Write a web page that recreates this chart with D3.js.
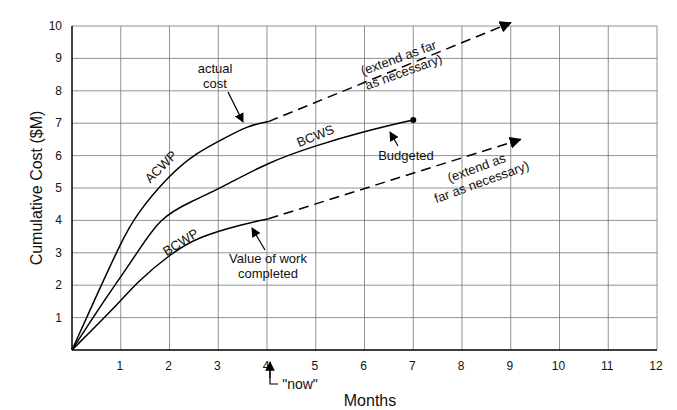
<!DOCTYPE html>
<html>
<head>
<script src="https://d3js.org/d3.v7.min.js"></script>
<style>
  * { margin: 0; }
  body { background: #fff; }
  text { font-family: "Liberation Sans", Arial, sans-serif; fill: #111; }
</style>
</head>
<body>
<svg id="chart" width="677" height="410"></svg>
<script>
const xTicks = [1,2,3,4,5,6,7,8,9,10,11,12];
const yTicks = [1,2,3,4,5,6,7,8,9,10];
const acwp = [[0,0],[0.57,1.9],[1.0,3.3],[1.3,4.15],[1.99,5.4],[2.57,6.1],[3.08,6.5],[3.62,6.93],[4.03,7.05]];
const acwpExt = [[4.03,7.05],[9.0,10.1]];
const bcws = [[0,0],[0.6,1.4],[1.3,2.9],[1.8,4.1],[2.47,4.6],[3.05,5.0],[4.03,5.8],[4.98,6.3],[6.0,6.75],[7.0,7.1]];
const bcwp = [[0,0],[1.0,1.5],[1.3,2.05],[2.04,3.0],[2.61,3.5],[3.49,3.88],[4.03,4.05]];
const bcwpExt = [[4.03,4.05],[9.2,6.5]];

const svg = d3.select("#chart");
const x = d3.scaleLinear().domain([0,12]).range([72,657]);
const y = d3.scaleLinear().domain([0,10]).range([350,26]);

// grid
svg.append("g").selectAll("line").data(xTicks).enter().append("line")
  .attr("x1", d => x(d)).attr("x2", d => x(d)).attr("y1", y(0)).attr("y2", y(10))
  .attr("stroke", "#777").attr("stroke-width", 0.8);
svg.append("g").selectAll("line").data(yTicks).enter().append("line")
  .attr("x1", x(0)).attr("x2", x(12)).attr("y1", d => y(d)).attr("y2", d => y(d))
  .attr("stroke", "#777").attr("stroke-width", 0.8);

// axes
svg.append("line").attr("x1", x(0)).attr("x2", x(0)).attr("y1", y(0)).attr("y2", y(10)).attr("stroke", "#000").attr("stroke-width", 1.5);
svg.append("line").attr("x1", x(0)).attr("x2", x(12)).attr("y1", y(0)).attr("y2", y(0)).attr("stroke", "#000").attr("stroke-width", 1.5);

svg.append("g").selectAll("text").data(xTicks).enter().append("text")
  .attr("x", d => x(d) - 1).attr("y", 370).attr("text-anchor", "middle")
  .attr("font-size", 12).text(d => d);
svg.append("g").selectAll("text").data(yTicks).enter().append("text")
  .attr("x", 62).attr("y", d => y(d) + 4).attr("text-anchor", "end")
  .attr("font-size", 12).text(d => d);

svg.append("text").attr("transform", "translate(42,188) rotate(-90)")
  .attr("text-anchor", "middle").attr("font-size", 16).text("Cumulative Cost ($M)");
svg.append("text").attr("x", 370).attr("y", 406).attr("text-anchor", "middle")
  .attr("font-size", 16).text("Months");

// curves
const line = d3.line().x(d => x(d[0])).y(d => y(d[1])).curve(d3.curveBasis);
const straight = d3.line().x(d => x(d[0])).y(d => y(d[1]));
[acwp, bcws, bcwp].forEach(s => svg.append("path").attr("d", line(s))
  .attr("fill", "none").attr("stroke", "#000").attr("stroke-width", 1.5));
[acwpExt, bcwpExt].forEach(s => svg.append("path").attr("d", straight(s))
  .attr("fill", "none").attr("stroke", "#000").attr("stroke-width", 1.5).attr("stroke-dasharray", "10,6"));

svg.append("defs").append("marker").attr("id", "ah").attr("viewBox", "0 0 10 10")
  .attr("refX", 9).attr("refY", 5).attr("markerWidth", 8).attr("markerHeight", 8).attr("orient", "auto")
  .append("path").attr("d", "M0,0L10,5L0,10Z").attr("fill", "#000");
[acwpExt, bcwpExt].forEach(s => {
  const a = s[1], b = [s[1][0] - (s[1][0]-s[0][0])*0.02, s[1][1] - (s[1][1]-s[0][1])*0.02];
  svg.append("line").attr("x1", x(b[0])).attr("y1", y(b[1])).attr("x2", x(a[0])).attr("y2", y(a[1]))
    .attr("stroke", "#000").attr("stroke-width", 1.5).attr("marker-end", "url(#ah)");
});
svg.append("circle").attr("cx", x(7)).attr("cy", y(7.1)).attr("r", 3).attr("fill", "#000");

// labels
function rtext(t, px, py, ang, size) {
  const lines = t.split("\n");
  const g = svg.append("text").attr("transform", `translate(${px},${py}) rotate(${ang})`)
    .attr("font-size", size || 13).attr("text-anchor", "middle");
  lines.forEach((l, i) => g.append("tspan").attr("x", 0).attr("dy", i ? 15 : 0).text(l));
}
rtext("ACWP", 164, 170, -45);
rtext("BCWS", 317, 140, -22);
rtext("BCWP", 183, 246, -32);
rtext("actual\ncost", 215, 73, 0);
rtext("Budgeted", 406, 160, 0);
rtext("Value of work\ncompleted", 268, 263, 0);
rtext("(extend as far\nas necessary)", 400, 62, -20);
rtext("(extend as\nfar as necessary)", 478, 172, -20);
rtext("\"now\"", 300, 389, 0, 14);

function arrow(x1, y1, x2, y2) {
  svg.append("line").attr("x1", x1).attr("y1", y1).attr("x2", x2).attr("y2", y2)
    .attr("stroke", "#000").attr("stroke-width", 1.2).attr("marker-end", "url(#ah)");
}
arrow(228, 92, 243, 122);
arrow(398, 146, 390, 132);
arrow(265, 250, 252, 228);
svg.append("path").attr("d", "M278,384L270,384L270,364").attr("fill", "none").attr("stroke", "#000").attr("stroke-width", 1.2);
arrow(270, 378, 270, 362);
</script>
</body>
</html>
